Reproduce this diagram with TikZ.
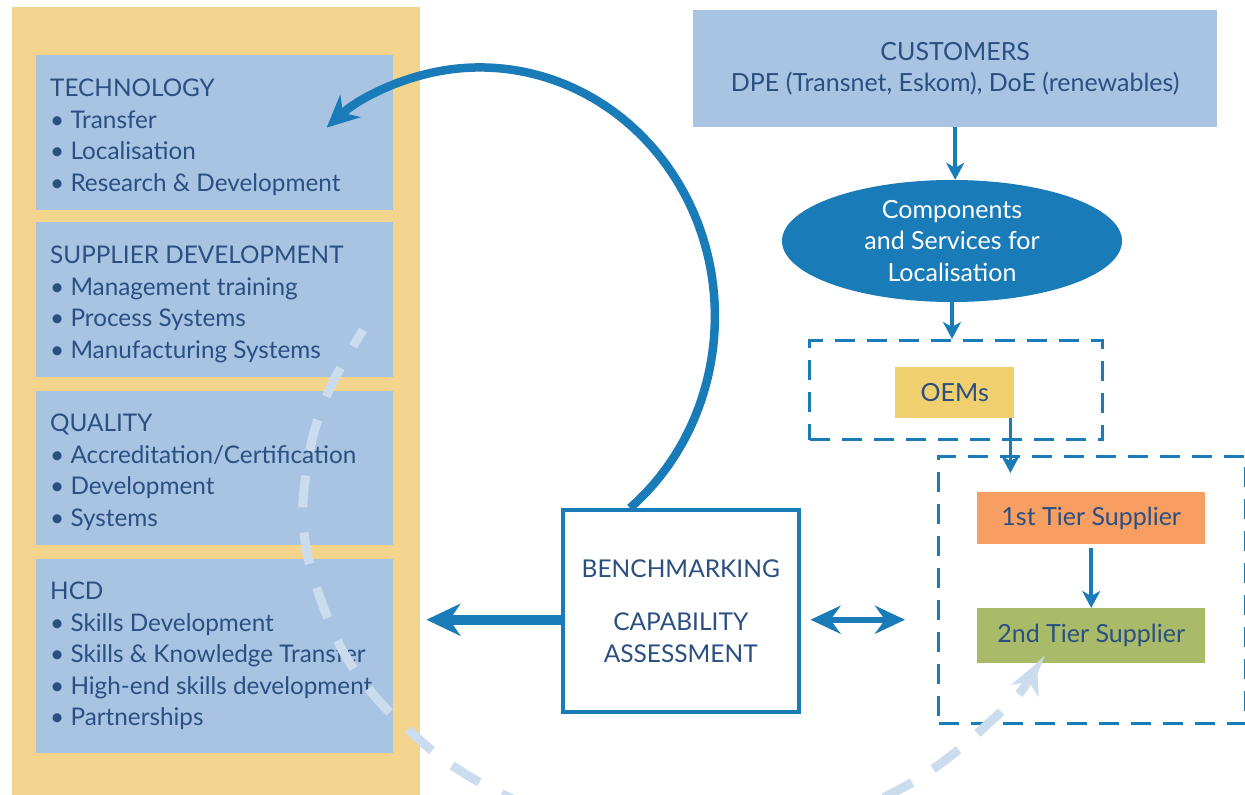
\documentclass[tikz,border=0pt]{standalone}
\usepackage{fontspec}
\setmainfont{Lato}
\usetikzlibrary{arrows.meta,shapes.geometric,calc}
\definecolor{bgyel}{HTML}{F2D48C}
\definecolor{boxblue}{HTML}{A9C4E2}
\definecolor{txtblue}{HTML}{2B4F80}
\definecolor{arrblue}{HTML}{1A7BB9}
\definecolor{oemyel}{HTML}{F0CF6E}
\definecolor{tierone}{HTML}{F79E62}
\definecolor{tiertwo}{HTML}{A9BB68}
\definecolor{lightarc}{HTML}{CCDCEF}
\begin{document}
\begin{tikzpicture}[x=1pt,y=-1pt,
  txt/.style={font=\fontsize{25}{30.8}\selectfont, text=txtblue},
  panel/.style={fill=boxblue, anchor=north west, inner sep=0pt, minimum width=357pt},
  listtxt/.style={text=txtblue, font=\fontsize{24.3}{31.5}\selectfont, anchor=north west, align=left, inner sep=0pt},
  grp/.style={draw=arrblue, line width=3pt, dash pattern=on 20pt off 12pt, anchor=north west, inner sep=0pt},
  tierbox/.style={txt, anchor=north west, inner sep=0pt, minimum width=228pt},
  conn/.style={draw=arrblue, line width=3.5pt, -{Stealth[length=17pt,width=18pt,inset=5pt]}},
  bigarrow/.style={draw=arrblue, line width=10pt, -{Stealth[length=34pt,width=32pt,inset=11pt]}},
  dblarrow/.style={draw=arrblue, line width=6pt, {Stealth[length=30pt,width=28pt,inset=10pt]}-{Stealth[length=30pt,width=28pt,inset=10pt]}},
  arcarrow/.style={draw=arrblue, line width=8.5pt, -{Stealth[length=32pt,width=30pt,inset=10pt]}},
  lightdash/.style={draw=lightarc, line width=9pt, dash pattern=on 32pt off 25pt, dash phase=13pt, -{Stealth[length=30pt,width=30pt,inset=10pt]}}
]
\useasboundingbox (0,0) rectangle (1245,795);
\fill[white] (0,0) rectangle (1245,795);

% left column
\node[fill=bgyel, anchor=north west, inner sep=0pt, minimum width=408pt, minimum height=790pt] (bg) at (12,7) {};
\node[panel, minimum height=155pt] (tech) at (36,55) {};
\node[panel, minimum height=155pt] (sup) at (36,222) {};
\node[panel, minimum height=154pt] (qual) at (36,391) {};
\node[panel, minimum height=194pt] (hcd) at (36,559) {};

\node[listtxt] (techtxt) at ($(tech.north west)+(14,24)$) {TECHNOLOGY\\\textbullet{} Transfer\\\textbullet{} Localisation\\\textbullet{} Research \& Development};
\node[listtxt] (suptxt) at ($(sup.north west)+(14,24)$) {SUPPLIER DEVELOPMENT\\\textbullet{} Management training\\\textbullet{} Process Systems\\\textbullet{} Manufacturing Systems};
\node[listtxt] (qualtxt) at ($(qual.north west)+(14,23)$) {QUALITY\\\textbullet{} Accreditation/Certification\\\textbullet{} Development\\\textbullet{} Systems};
\node[listtxt] (hcdtxt) at ($(hcd.north west)+(14,23)$) {HCD\\\textbullet{} Skills Development\\\textbullet{} Skills \& Knowledge Transfer\\\textbullet{} High-end skills development\\\textbullet{} Partnerships};

% right column
\node[txt, fill=boxblue, anchor=north west, inner sep=0pt, minimum width=524pt, minimum height=117pt, align=center] (cust) at (693,10) {CUSTOMERS\\DPE (Transnet, Eskom), DoE (renewables)};
\node[txt, ellipse, fill=arrblue, text=white, inner sep=0pt, minimum width=340pt, minimum height=122pt, align=center, font=\fontsize{25}{31.5}\selectfont] (comp) at (952,241) {Components\\and Services for\\Localisation};
\node[grp, minimum width=293pt, minimum height=99pt] (oemgrp) at (808,339) {};
\node[txt, fill=oemyel, anchor=north west, inner sep=0pt, minimum width=119pt, minimum height=51pt] (oem) at (895,367) {OEMs};
\node[grp, minimum width=307pt, minimum height=267pt] (tiergrp) at (937,455) {};
\node[tierbox, fill=tierone, minimum height=52pt] (tierA) at (977,492) {1st Tier Supplier};
\node[tierbox, fill=tiertwo, minimum height=55pt] (tierB) at (977,608) {\raisebox{-3pt}{2nd Tier Supplier}};

% benchmarking
\node[text=txtblue, font=\fontsize{24.5}{31.5}\selectfont, draw=arrblue, line width=3.5pt, fill=white, anchor=north west, inner sep=0pt, minimum width=236pt, minimum height=202pt, align=center] (bench) at (561,508) {BENCHMARKING\\[22pt]CAPABILITY\\ASSESSMENT};

% light dashed curve
\coordinate (lightstart) at (363,330);
\coordinate (tierBin) at ($(tierB.south west)+(60,0)$);
\begin{scope}
\clip (0,0) rectangle (1245,795);
\draw[lightdash] plot[smooth, tension=0.55] coordinates {(lightstart) (331,386) (312,440) (303,503) (307,553) (322,603) (345,655) (378,700) (412,733) (447,762) (500,793) (590,830) (700,845) (810,830) (902,788) (948,758) (990,722) (1022,690) (tierBin)};
\end{scope}

% connectors
\draw[conn] (cust.south) -- (cust.south |- comp.north);
\draw[conn] (comp.south) -- (comp.south |- oemgrp.north);
\draw[conn] ([xshift=-4pt]oem.south east) -- ($(oem.south east |- tiergrp.north)+(-4,18)$);
\draw[conn] ([yshift=-4pt]tierA.south) -- (tierB.north);
\draw[bigarrow] ($(bench.west)+(0,9)$) -- ($(bench.west -| bg.east)+(6,9)$);
\draw[dblarrow] ($(bench.east)+(10,9)$) -- ($(bench.east -| tiergrp.west)+(-32,9)$);
\draw[arcarrow] ($(bench.north west)+(69,0)$) arc[start angle=50.3, end angle=-130.7, x radius=235, y radius=249];
\end{tikzpicture}
\end{document}
